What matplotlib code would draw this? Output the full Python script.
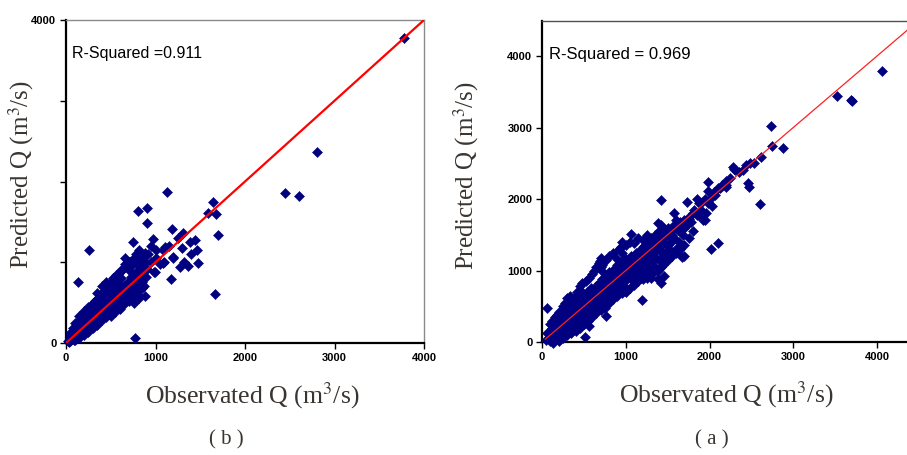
import matplotlib
matplotlib.use("Agg")
import matplotlib.pyplot as plt

# ---------------- Panel (b) data ----------------
core_b_obs = [20, 30, 40, 50, 60, 70, 80, 90, 100, 100, 110, 120, 130, 140, 150, 150, 160, 170, 180, 190,
              200, 200, 210, 220, 230, 240, 250, 250, 260, 270, 280, 290, 300, 300, 310,
              320, 330, 340, 350, 360, 370, 380, 390, 400, 400, 410, 420, 430, 440, 450, 460, 470, 480, 490,
              500, 500, 510, 520, 530, 540, 550, 560, 570, 580, 590, 600, 610, 620, 630, 640,
              600, 650, 660, 670, 680, 690, 700, 710, 720, 730, 740, 750, 760, 770, 780, 790, 800, 810,
              820, 830, 840, 850, 860, 870, 880, 890, 900, 860, 760, 820, 700, 650, 550,
              450, 520, 580, 620, 700, 760, 350, 300, 250, 200, 150, 100, 680,
              920, 950, 980, 1000, 1050, 1080, 1100, 1150, 1200, 1250, 1300, 1320, 1380, 1400, 950, 1000]
core_b_pred = [30, 10, 60, 20, 90, 50, 110, 40, 130, 80, 160, 60, 190, 120, 220, 90, 170, 250, 140, 210,
               280, 160, 120, 300, 200, 260, 330, 180, 230, 380, 290, 200, 350, 260, 420,
               300, 390, 470, 250, 330, 440, 520, 300, 380, 700, 470, 560, 340, 420, 500, 600, 380, 460, 540,
               640, 330, 420, 480, 580, 700, 450, 520, 620, 740, 480, 560, 680, 800, 520, 600,
               420, 700, 1050, 560, 650, 760, 900, 620, 700, 820, 960, 600, 690, 780, 880, 1000, 720, 640,
               820, 940, 1080, 760, 880, 700, 1000, 820, 920, 1050, 500, 560, 520, 480, 380,
               750, 800, 860, 900, 1000, 1050, 620, 500, 450, 400, 330, 250, 950,
               1100, 1000, 880, 1050, 980, 1150, 1000, 1200, 1050, 1300, 1180, 1000, 1250, 1100, 1200, 1150]
fill_b_obs = [50, 80, 120, 160, 180, 220, 240, 280, 320, 360, 380, 420, 460, 500, 540, 560, 600, 640, 660,
              720, 780, 820, 840, 880,
              100, 150, 200, 250, 300, 350, 400, 450, 500, 550, 600, 650, 700, 750, 800, 850, 880,
              130, 170, 230, 270, 330, 370, 430, 470, 530, 570, 630, 670, 730, 770, 830, 870]
fill_b_pred = [120, 180, 250, 280, 320, 360, 420, 460, 520, 560, 600, 640, 700, 760, 800, 840, 880, 920, 980,
               1000, 1100, 1150, 1000, 1120,
               40, 60, 100, 140, 180, 220, 280, 320, 380, 420, 480, 540, 580, 650, 600, 680, 580,
               140, 190, 240, 300, 340, 400, 450, 520, 560, 600, 660, 720, 760, 830, 870, 920]
out_b_obs = [3780, 2800, 2447, 2603, 1130, 1644, 1590, 1672, 1700, 1663, 800, 903, 903, 1188, 750, 975,
             260, 130, 770, 1170, 1310, 1440, 1460, 1480, 1360, 1275, 1106, 1195, 995, 1085]
out_b_pred = [3780, 2365, 1857, 1820, 1870, 1746, 1609, 1597, 1337, 607, 1634, 1671, 1486, 1411, 1250, 1287,
              1151, 755, 62, 792, 1360, 1275, 1150, 990, 955, 940, 1190, 1065, 880, 990]

# ---------------- Panel (a) data ----------------
core_a_obs = [50, 60, 80, 100, 100, 120, 140, 150, 160, 180, 180, 200, 200, 220, 220, 240, 250, 260, 260,
              280, 280, 300, 300, 320, 320, 340, 340, 360, 360, 380, 380, 400, 400, 420, 420, 440, 440,
              460, 460, 470, 480, 500, 500, 500, 520, 520, 540, 540, 560, 560, 580, 580, 600, 600, 620, 620,
              640, 640, 660, 660, 680, 680, 700, 700, 720, 720, 740, 740, 760, 760, 780, 780, 800, 800,
              820, 820, 840, 840, 860, 860, 880, 880, 900, 900, 920, 920, 940, 940, 960, 960, 980, 980,
              1000, 1000, 1000, 1020, 1020, 1040, 1040, 1060, 1060, 1080, 1080, 1100, 1100, 1120, 1120,
              1140, 1140, 1160, 1160, 1180, 1180, 1200, 1200, 1220, 1220, 1240, 1240, 1260, 1260, 1280, 1280,
              1300, 1300, 1320, 1320, 1340, 1360, 1360, 1380, 1380, 1400, 1400, 1420, 1440, 1440, 1460, 1480,
              1500, 1500, 1520, 1540, 1560, 1580, 1600, 1620, 1650, 1680, 1700, 1720, 1750, 1780, 1800,
              1850, 1880, 1900, 1950, 1960, 1980, 2000, 2030, 2060, 2100, 2150, 2200, 2250, 2300, 2350,
              2400, 2480]
core_a_pred = [30, 120, 60, 160, 20, 100, 200, 60, 150, 260, 100, 190, 60, 320, 240, 140, 280, 380, 200,
               330, 120, 250, 420, 360, 180, 300, 450, 380, 230, 500, 320, 420, 260, 560, 370, 470, 300,
               520, 640, 380, 450, 560, 650, 340, 480, 600, 700, 400, 560, 480, 640, 750, 520, 620, 700, 450,
               780, 600, 680, 560, 820, 720, 640, 760, 880, 560, 700, 800, 920, 640, 760, 860, 700, 980,
               820, 600, 900, 760, 1020, 820, 700, 940, 860, 1080, 780, 980, 900, 1120, 820, 1000, 1060, 900,
               760, 960, 1160, 1040, 880, 1100, 960, 1200, 1000, 880, 1080, 1140, 960, 1250, 1040,
               1100, 900, 1200, 1000, 1300, 1120, 1060, 1200, 1340, 980, 1160, 1260, 1380, 1080, 1220, 1000,
               1300, 1160, 1420, 1080, 1250, 1350, 1180, 1440, 1000, 1300, 1150, 1380, 1250, 1460, 1100, 1350,
               1480, 1250, 1550, 1400, 1620, 1450, 1300, 1560, 1680, 1500, 1700, 1620, 1750, 1680, 1800,
               1780, 1950, 1850, 1700, 1800, 1950, 2000, 1900, 2050, 2150, 2180, 2250, 2300, 2400, 2380,
               2400, 2500]
fill_a_obs = [150, 200, 250, 300, 350, 400, 450, 500, 550, 600, 650, 700, 750, 800, 850, 900, 950, 1000,
              1050, 1100, 1150, 1200, 1250, 1300, 1350, 1400, 1450, 170, 230, 280, 330, 380, 430, 480,
              360, 410, 460, 510, 560, 610, 660, 710, 760, 820, 870, 930, 990, 1100, 1180, 1260, 1340,
              1420, 1460]
fill_a_pred = [250, 300, 120, 330, 320, 500, 420, 480, 520, 700, 650, 700, 750, 820, 900, 950, 950, 1050,
               1080, 1050, 1150, 1250, 1200, 1240, 1400, 1420, 1380, 330, 400, 450, 520, 580, 620, 700,
               150, 200, 280, 300, 380, 420, 480, 500, 560, 650, 640, 700, 720, 840, 900, 950, 1000,
               1050, 920]
upper_a_obs = [100, 120, 150, 180, 200, 250, 280, 300, 330, 350, 400, 420, 450, 480, 520, 560, 600, 620,
               650, 680, 720, 760, 800, 850, 880, 920, 960, 1000, 1050, 1100, 1150, 1200, 1250, 1300,
               1350, 1400, 1450, 1500]
upper_a_pred = [250, 300, 350, 380, 420, 500, 550, 620, 650, 560, 640, 700, 780, 820, 850, 900, 950, 1000,
                1050, 1100, 1080, 1150, 1200, 1250, 1180, 1300, 1250, 1350, 1400, 1380, 1450, 1420, 1500,
                1450, 1500, 1550, 1600, 1600]
lower_a_obs = [200, 250, 300, 350, 400, 450, 500, 550, 600, 650, 700, 750, 800, 850, 900, 950, 1000, 1050,
               1100, 1150, 1200, 1250, 1300, 1350, 1400, 1450, 1500, 1550, 1600, 1650, 1700, 1750, 1800]
lower_a_pred = [20, 50, 100, 120, 150, 200, 250, 300, 350, 400, 450, 480, 550, 600, 650, 680, 700, 760,
                800, 850, 880, 900, 950, 1000, 1020, 1080, 1150, 1200, 1250, 1300, 1350, 1450, 1550]
mid_a_obs = [120, 260, 310, 370, 430, 490, 530, 570, 630, 670, 730, 790, 830, 890, 930, 970, 1030, 1070,
             1130, 1170, 1230, 1270, 1330, 1370, 1430, 1480, 1550, 1600, 1680, 1760, 1820, 1900, 1950,
             2050, 2120, 2200]
mid_a_pred = [200, 300, 350, 400, 480, 540, 560, 600, 660, 710, 780, 830, 870, 930, 960, 1010, 1070, 1110,
              1160, 1210, 1270, 1300, 1330, 1380, 1450, 1500, 1560, 1620, 1650, 1720, 1850, 1950, 2000,
              2100, 2150, 2200]
out_a_obs = [64, 700, 705, 690, 713, 940, 952, 1059, 1390, 1420, 1422, 1577, 1736, 1669, 1690, 1422, 1199,
             765, 562, 514, 135, 2099, 2016, 1983, 1983, 2282, 2290, 2434, 2461, 2473, 2533, 2613, 2605,
             2732, 2748, 2876, 3524, 3688, 3700, 4062, 1900, 1920, 1850, 1700, 1650, 1600, 1550, 2150,
             2200, 1500, 1600, 1640, 1560, 1520, 1450, 1380, 1300]
out_a_pred = [471, 1170, 1055, 1130, 1000, 1324, 1404, 1510, 1660, 1640, 1986, 1800, 1954, 1193, 1200, 830,
              587, 364, 224, 65, -18, 1389, 1296, 2242, 2116, 2452, 2420, 2470, 2228, 2170, 2503, 2583, 1930,
              3021, 2741, 2709, 3445, 3385, 3370, 3794, 1750, 1700, 2000, 1600, 1620, 1600, 1500, 2200,
              2170, 1350, 1700, 1400, 1250, 1300, 1200, 880, 900]

ticks = [0, 1000, 2000, 3000, 4000]
tick_labels_b = ["0", "", "", "", "4000"]
tick_labels = ["0", "1000", "2000", "3000", "4000"]

navy = "#000080"
label_color = "#3a3530"
serif = ["Liberation Serif", "DejaVu Serif"]
sans = ["Liberation Sans", "DejaVu Sans"]

fig = plt.figure(figsize=(9.07, 4.55), dpi=100)


def style_axes(ax):
    for s in ("left", "bottom"):
        ax.spines[s].set_color("black")
        ax.spines[s].set_linewidth(1.6)
    for s in ("top", "right"):
        ax.spines[s].set_color("#8a8a8a")
        ax.spines[s].set_linewidth(1.0)
    ax.tick_params(direction="out", length=4, width=1, top=False, right=False, pad=3)
    for lab in ax.get_xticklabels() + ax.get_yticklabels():
        lab.set_fontfamily(sans)
        lab.set_fontweight("bold")
        lab.set_fontsize(8)


def scatter(ax, xs, ys):
    ax.plot(xs, ys, linestyle="none", marker="D", ms=5, mfc=navy, mec=navy, mew=0.4,
            clip_on=False, zorder=3)


def labels(ax, ylab_x, xlab_x, xlab_y):
    ax.set_xlabel("Observated Q (m$^3$/s)", family=serif, fontsize=18.5, color=label_color)
    ax.set_ylabel("Predicted Q (m$^3$/s)", family=serif, fontsize=18, color=label_color)
    ax.xaxis.label.set_math_fontfamily("stix")
    ax.yaxis.label.set_math_fontfamily("stix")
    ax.yaxis.set_label_coords(ylab_x, 0.52)
    ax.xaxis.set_label_coords(xlab_x, xlab_y)


# ---- Left panel (b) ----
axb = fig.add_axes([66 / 907, 1 - 343 / 455, 358 / 907, 323 / 455])
axb.set_xlim(0, 4000)
axb.set_ylim(0, 4000)
axb.set_xticks(ticks)
axb.set_xticklabels(tick_labels)
axb.set_yticks(ticks)
axb.set_yticklabels(tick_labels_b)
scatter(axb, core_b_obs, core_b_pred)
scatter(axb, fill_b_obs, fill_b_pred)
scatter(axb, out_b_obs, out_b_pred)
axb.plot([0, 4000], [0, 4000], color="#ff0000", lw=1.6, zorder=4)
style_axes(axb)
axb.text(0.018, 0.895, "R-Squared =0.911", transform=axb.transAxes, fontsize=11.5,
         family=sans, color="black", va="center")
labels(axb, -0.084, 0.52, -0.115)

# ---- Right panel (a) ----
axa = fig.add_axes([542 / 907, 1 - 342 / 455, 4500 * 0.08375 / 907, 321 / 455])
axa.set_xlim(0, 4500)
axa.set_ylim(0, 4490)
axa.set_xticks(ticks)
axa.set_xticklabels(tick_labels)
axa.set_yticks(ticks)
axa.set_yticklabels(tick_labels)
scatter(axa, core_a_obs, core_a_pred)
scatter(axa, fill_a_obs, fill_a_pred)
scatter(axa, upper_a_obs, upper_a_pred)
scatter(axa, lower_a_obs, lower_a_pred)
scatter(axa, mid_a_obs, mid_a_pred)
scatter(axa, out_a_obs, out_a_pred)
axa.plot([40, 4500], [40, 4500], color="#ff2020", lw=0.9, zorder=4)
style_axes(axa)
axa.spines["top"].set_color("#505050")
axa.text(0.018, 0.895, "R-Squared = 0.969", transform=axa.transAxes, fontsize=12,
         family=sans, color="black", va="center")
labels(axa, -0.162, 0.488, -0.117)

fig.text(226 / 907, 1 - 440 / 455, "( b )", family=serif, fontsize=15, color=label_color,
         ha="center", va="center")
fig.text(712 / 907, 1 - 440 / 455, "( a )", family=serif, fontsize=15, color=label_color,
         ha="center", va="center")

fig.savefig("out.png", dpi=100)
